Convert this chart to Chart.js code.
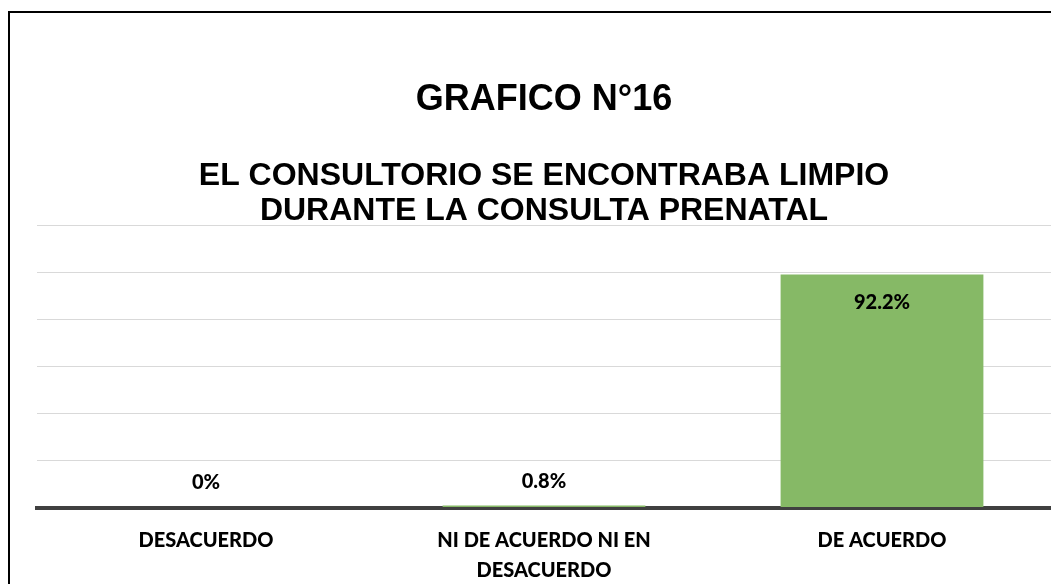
<!DOCTYPE html>
<html>
<head>
<meta charset="utf-8">
<script src="https://cdn.jsdelivr.net/npm/chart.js@4/dist/chart.umd.min.js"></script>
<style>
  body { margin: 0; overflow: hidden; background: #fff; }
  #frame { position: absolute; left: 8px; top: 11px; width: 1055px; height: 600px; border: 2px solid #000; background: #fff; }
</style>
</head>
<body>
<div id="frame"><canvas id="chart"></canvas></div>
<script>
// ── data ──
const categories = ['DESACUERDO', ['NI DE ACUERDO NI EN', 'DESACUERDO'], 'DE ACUERDO'];
const percentages = [0, 0.8, 92.2];
const axisMax = 111.7;
const gridCount = 7;

const labelFont = { family: 'Lato, "Open Sans", sans-serif', size: 20, weight: '900' };

// value labels: inside the top of tall bars, just above the axis for tiny ones
const valueLabels = {
  id: 'valueLabels',
  afterDatasetsDraw(chart) {
    const { ctx } = chart;
    const meta = chart.getDatasetMeta(0);
    ctx.save();
    ctx.font = `${labelFont.weight} ${labelFont.size}px ${labelFont.family}`;
    ctx.fillStyle = '#000';
    ctx.textAlign = 'center';
    ctx.textBaseline = 'middle';
    meta.data.forEach((bar, i) => {
      const tall = (bar.base - bar.y) > 40;
      const y = tall ? bar.y + 28 : bar.base - 25;
      ctx.fillText(percentages[i] + '%', bar.x, y);
    });
    ctx.restore();
  },
};

new Chart(document.getElementById('chart'), {
  type: 'bar',
  data: {
    labels: categories,
    datasets: [{
      data: percentages,
      backgroundColor: '#86b966',
      borderWidth: 0,
      barPercentage: 0.6,
      categoryPercentage: 1.0,
    }],
  },
  options: {
    responsive: true, maintainAspectRatio: false, animation: false,
    layout: { padding: { left: 27, right: 14, top: 0, bottom: 17.5 } },
    plugins: {
      legend: { display: false },
      tooltip: { enabled: false },
      title: {
        display: true, text: 'GRAFICO N°16', color: '#000',
        font: { family: '"Liberation Sans", Arial, sans-serif', size: 36, weight: 'bold', lineHeight: 1.2 },
        padding: { top: 65, bottom: 37 },
      },
      subtitle: {
        display: true, text: ['EL CONSULTORIO SE ENCONTRABA LIMPIO', 'DURANTE LA CONSULTA PRENATAL'], color: '#000',
        font: { family: '"Liberation Sans", Arial, sans-serif', size: 32, weight: 'bold', lineHeight: 1.1 },
        padding: { top: 0, bottom: -3.3 },
      },
    },
    scales: {
      x: {
        grid: { display: false },
        border: { color: '#404040', width: 4 },
        ticks: { color: '#000', font: { ...labelFont, lineHeight: 1.5 }, padding: 10, maxRotation: 0, autoSkip: false },
      },
      y: {
        min: 0, max: axisMax,
        grid: { color: '#d9d9d9', lineWidth: 1, drawTicks: false },
        border: { display: false },
        ticks: { display: false, count: gridCount },
      },
    },
  },
  plugins: [valueLabels],
});
</script>
</body>
</html>
